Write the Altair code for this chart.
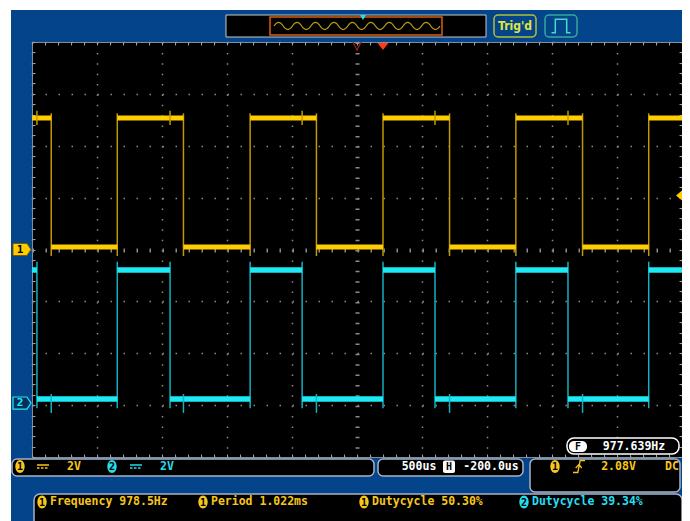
import altair as alt
import pandas as pd

T_START, T_END = -2700, 2300      # time window in us (500 us/div, position -200 us)
V_MIN, V_MAX = -8, 8              # screen volts (2 V/div, 8 divisions)
CH2_OFFSET = -5.92                # channel 2 ground position (screen volts)
center_time = -200
trigger_time = 0
trigger_level = 2.08

ch1_fall = [-2552, -1535, -512, 512, 1535]
ch1_rise = [-2044, -1022, 0, 1022, 2044]
ch1_levels = [5.07, 0.10]              # high, low (V)
ch1_edge_span = [-0.25, 5.25]
ch1_spike_t = [-2662, -1638, -622, 400, 1423]
ch1_spike_span = [4.80, 5.35]

ch2_fall = [-2662, -1638, -622, 400, 1423]
ch2_rise = [-2044, -1022, 0, 1022, 2044]
ch2_levels = [5.13, 0.16]
ch2_edge_span = [-0.20, 5.45]
ch2_spike_t = [-2552, -1535, -512, 512, 1535]
ch2_spike_span = [-0.38, 0.35]

ch_scale_labels = ["2V", "2V"]
timebase_labels = ["500us", "-200.0us"]
trigger_labels = ["2.08V", "DC"]
counter_reading = "977.639Hz"
meas_channel = ["1", "1", "1", "2"]
meas_text = ["Frequency 978.5Hz", "Period 1.022ms", "Dutycycle 50.30%", "Dutycycle 39.34%"]

# ---------------- styles ----------------
BLUE = "#03448A"
YEL = "#FFCC00"
YEL_EDGE = "#C09800"
CYAN = "#1EEAF6"
CYAN_EDGE = "#14B0C0"
TXT_YEL = "#F6C61E"
TXT_CYAN = "#26DDF0"
GRAYB = "#A8B2C2"
GRID = "#8a8a8a"
MONO = "DejaVu Sans Mono"
COND = "Liberation Sans Narrow, DejaVu Sans Condensed, Roboto, sans-serif"

X_SCALE = alt.Scale(domain=[T_START, T_END], nice=False, zero=False)
Y_SCALE = alt.Scale(domain=[V_MIN, V_MAX], nice=False, zero=False)


def segments(fall, rise, levels, offset):
    events = sorted([(t, "f") for t in fall] + [(t, "r") for t in rise])
    rows, t0, lev = [], T_START, levels[0]
    for t, kind in events:
        rows.append({"t0": t0, "t1": t, "v": lev + offset})
        lev = levels[1] if kind == "f" else levels[0]
        t0 = t
    rows.append({"t0": t0, "t1": T_END, "v": lev + offset})
    return pd.DataFrame(rows)


def spans(times, span, offset):
    return pd.DataFrame({"t": times, "lo": [span[0] + offset] * len(times),
                         "hi": [span[1] + offset] * len(times)})


ch1_seg = segments(ch1_fall, ch1_rise, ch1_levels, 0)
ch2_seg = segments(ch2_fall, ch2_rise, ch2_levels, CH2_OFFSET)
ch1_edges = spans(sorted(ch1_fall + ch1_rise), ch1_edge_span, 0)
ch2_edges = spans(sorted(ch2_fall + ch2_rise), ch2_edge_span, CH2_OFFSET)
ch1_spikes = spans(ch1_spike_t, ch1_spike_span, 0)
ch2_spikes = spans(ch2_spike_t, ch2_spike_span, CH2_OFFSET)

# graticule ticks: every 1/5 division
x_ticks = [T_START + 100 * i for i in range(51)]
y_ticks = [round(V_MIN + 0.4 * i, 1) for i in range(41)]
x_div = "abs((datum.value + 200) % 500) < 1"
x_mid = "abs(datum.value + 200) < 1"
y_div = "abs(datum.value / 2 - round(datum.value / 2)) < 0.01"
y_mid = "abs(datum.value) < 0.01"

axis_bottom = alt.Axis(values=x_ticks, orient="bottom", offset=-3, tickSize=3,
                       tickColor="#9aa2ae", tickWidth=1, labels=False, domain=False,
                       title=None, grid=True, gridColor=GRID, gridDash=[1.5, 8.875],
                       gridWidth={"condition": {"test": x_mid, "value": 4}, "value": 1.5},
                       gridOpacity={"condition": {"test": x_div, "value": 1}, "value": 0},
                       zindex=0)
axis_left = alt.Axis(values=y_ticks, orient="left", offset=-3, tickSize=3,
                     tickColor="#9aa2ae", tickWidth=1, labels=False, domain=False,
                     title=None, grid=True, gridColor=GRID, gridDash=[1.5, 11.5],
                     gridWidth={"condition": {"test": y_mid, "value": 4}, "value": 1.5},
                     gridOpacity={"condition": {"test": y_div, "value": 1}, "value": 0},
                     zindex=0)
axis_top = alt.Axis(values=x_ticks, orient="top", offset=-3, tickSize=3,
                    tickColor="#9aa2ae", tickWidth=1, labels=False, domain=False,
                    title=None, grid=False, zindex=0)
axis_right = alt.Axis(values=y_ticks, orient="right", offset=-3, tickSize=3,
                      tickColor="#9aa2ae", tickWidth=1, labels=False, domain=False,
                      title=None, grid=False, zindex=0)

ONE = pd.DataFrame({"k": [0]})


def hband(df, color, width, ax=None, ay=None):
    return alt.Chart(df).mark_rule(color=color, strokeWidth=width).encode(
        x=alt.X("t0:Q", scale=X_SCALE, axis=ax), x2="t1:Q",
        y=alt.Y("v:Q", scale=Y_SCALE, axis=ay))


def vrules(df, color, width):
    return alt.Chart(df).mark_rule(color=color, strokeWidth=width).encode(
        x=alt.X("t:Q", scale=X_SCALE, axis=None),
        y=alt.Y("lo:Q", scale=Y_SCALE, axis=None), y2="hi:Q")


def box(x1, y1, x2, y2, fill=None, stroke=None, sw=1.5, r=0):
    kw = dict(cornerRadius=r)
    if fill:
        kw["fill"] = fill
    else:
        kw["fillOpacity"] = 0
    if stroke:
        kw["stroke"] = stroke
        kw["strokeWidth"] = sw
    return alt.Chart(ONE).mark_rect(**kw).encode(
        x=alt.value(x1), x2=alt.value(x2), y=alt.value(y1), y2=alt.value(y2))


def label(x, y, s, color, size=11.5, align="center", font=MONO, weight="bold"):
    return alt.Chart(ONE).mark_text(text=s, align=align, baseline="middle", font=font,
                                    fontSize=size, fontWeight=weight, color=color).encode(
        x=alt.value(x), y=alt.value(y))


def sym(x, y, shape, size, fill=None, stroke=None, sw=1.0):
    kw = dict(shape=shape, size=size, opacity=1)
    if fill:
        kw.update(filled=True, fill=fill)
        if stroke:
            kw.update(stroke=stroke, strokeWidth=sw)
    else:
        kw.update(filled=False, stroke=stroke, strokeWidth=sw)
    return alt.Chart(ONE).mark_point(**kw).encode(x=alt.value(x), y=alt.value(y))


ELLIPSE = "M0,-1 A0.72,1 0 1,1 0,1 A0.72,1 0 1,1 0,-1 Z"


def badge(x, y, n, color):
    return [sym(x, y, ELLIPSE, 169, fill=color),
            label(x, y + 0.5, n, "black", size=10)]


def dc_symbol(x, y, color):
    solid = alt.Chart(ONE).mark_rule(color=color, strokeWidth=1.5).encode(
        x=alt.value(x - 6), x2=alt.value(x + 6), y=alt.value(y - 1.5))
    dashed = alt.Chart(ONE).mark_rule(color=color, strokeWidth=1.5, strokeDash=[2.5, 1.5]).encode(
        x=alt.value(x - 6), x2=alt.value(x + 6), y=alt.value(y + 1.5))
    return [solid, dashed]


layers = []
# waveforms (these two layers carry the graticule axes)
layers.append(vrules(ch1_edges, YEL_EDGE, 1.5))
layers.append(vrules(ch2_edges, CYAN_EDGE, 1.5))
layers.append(hband(ch1_seg, YEL, 5, axis_bottom, axis_left))
layers.append(hband(ch2_seg, CYAN, 5.5, axis_top, axis_right))
layers.append(vrules(ch1_spikes, YEL_EDGE, 1.5))
layers.append(vrules(ch2_spikes, CYAN_EDGE, 1.5))

# top position markers (through the time scale)
layers.append(alt.Chart(pd.DataFrame({"t": [center_time]})).mark_point(
    shape="M-1,-1 L0,1 L1,-1", size=70, filled=False, stroke="#A02810", strokeWidth=1.2,
    opacity=1).encode(x=alt.X("t:Q", scale=X_SCALE, axis=None), y=alt.value(4)))
layers.append(alt.Chart(pd.DataFrame({"t": [trigger_time]})).mark_point(
    shape="M-1,-0.64 L1,-0.64 L0,0.64 Z", size=121, filled=True, fill="#FF3A10",
    opacity=1).encode(x=alt.X("t:Q", scale=X_SCALE, axis=None), y=alt.value(4.5)))

# channel ground markers and trigger level marker (through the volt scale)
PENT = "M-1,-0.67 L0.55,-0.67 L1,0 L0.55,0.67 L-1,0.67 Z"
layers.append(alt.Chart(pd.DataFrame({"v": [0.0]})).mark_point(
    shape=PENT, size=324, filled=True, fill=YEL, stroke="#7A5A00", strokeWidth=1,
    opacity=1).encode(x=alt.value(-10), y=alt.Y("v:Q", scale=Y_SCALE, axis=None)))
layers.append(alt.Chart(pd.DataFrame({"v": [0.0]})).mark_text(
    text="1", font=MONO, fontSize=11, fontWeight="bold", color="black").encode(
    x=alt.value(-12), y=alt.Y("v:Q", scale=Y_SCALE, axis=None)))
layers.append(alt.Chart(pd.DataFrame({"v": [CH2_OFFSET]})).mark_point(
    shape=PENT, size=324, filled=True, fill="#082E5C", stroke=CYAN, strokeWidth=1.2,
    opacity=1).encode(x=alt.value(-10), y=alt.Y("v:Q", scale=Y_SCALE, axis=None)))
layers.append(alt.Chart(pd.DataFrame({"v": [CH2_OFFSET]})).mark_text(
    text="2", font=MONO, fontSize=11, fontWeight="bold", color=CYAN).encode(
    x=alt.value(-12), y=alt.Y("v:Q", scale=Y_SCALE, axis=None)))
layers.append(alt.Chart(pd.DataFrame({"v": [trigger_level]})).mark_point(
    shape="M0.6,-1 L-0.6,0 L0.6,1 Z", size=100, filled=True, fill=YEL,
    opacity=1).encode(x=alt.value(647), y=alt.Y("v:Q", scale=Y_SCALE, axis=None)))

# white page edge (screenshot border)
layers.append(box(-24, -34, 660, -32, fill="white"))
layers.append(box(-24, -34, -21, 480, fill="white"))

# top status bar
layers.append(box(194, -27, 454, -5, fill="black", stroke="#C8C8C8", sw=1))
layers.append(box(238, -25, 410, -7, stroke="#D86010", sw=1.5))
wave = "M-1,0" + "".join(
    " q0.05556,%s 0.11111,0" % ("-0.085" if i % 2 == 0 else "0.085") for i in range(18))
layers.append(sym(325, -16, wave, 166 * 166, stroke="#B89A10", sw=1.2))
layers.append(sym(331, -24.5, "triangle-down", 36, fill="#20E0F0"))
layers.append(box(462, -27, 504, -5, stroke="#B4BE3A", sw=1.5, r=4))
layers.append(label(483, -16, "Trig'd", "#E2E640", size=12, font=COND))
layers.append(box(513, -27, 545, -5, stroke="#38A898", sw=1.5, r=4))
layers.append(sym(529, -16, "M-1,0.7 L-0.6,0.7 L-0.6,-0.7 L0.6,-0.7 L0.6,0.7 L1,0.7",
                  361, stroke="#40E0C0", sw=1.5))

# frequency counter box
layers.append(box(535, 396, 647, 412, fill="black", stroke="white", sw=1.5, r=7))
layers.append(box(537, 399, 555, 410, fill="white", r=5))
layers.append(label(546, 404.5, "F", "black", size=10))
layers.append(label(602, 404.5, counter_reading, "white"))

# channel / timebase / trigger bar
layers.append(box(-20, 417, 342, 434, fill="black", stroke=GRAYB, sw=1.5, r=5))
layers += badge(-12, 424.5, "1", TXT_YEL)
layers += dc_symbol(11, 424.5, TXT_YEL)
layers.append(label(42, 424.5, ch_scale_labels[0], TXT_YEL))
layers += badge(80, 424.5, "2", TXT_CYAN)
layers += dc_symbol(104, 424.5, TXT_CYAN)
layers.append(label(135, 424.5, ch_scale_labels[1], TXT_CYAN))

layers.append(box(346, 417, 491, 434, fill="black", stroke=GRAYB, sw=1.5, r=5))
layers.append(label(387, 424.5, timebase_labels[0], "white"))
layers.append(box(411, 418.5, 423, 431, fill="white", r=2))
layers.append(label(417, 425, "H", "black", size=10))
layers.append(label(459, 424.5, timebase_labels[1], "white"))

layers.append(box(498, 417, 648, 450, fill="black", stroke=GRAYB, sw=1.5, r=5))
layers += badge(523, 424.5, "1", TXT_YEL)
layers.append(sym(547, 424.5, "M-1,1 L-0.2,1 L0.2,-1 L1,-1 M-0.55,0.25 L0,-0.35 L0.45,0.25",
                  144, stroke=TXT_YEL, sw=1.3))
layers.append(label(586.5, 424.5, trigger_labels[0], TXT_YEL))
layers.append(label(640, 424.5, trigger_labels[1], TXT_YEL))

# measurement bar
layers.append(box(2, 452, 650, 495, fill="black", stroke=GRAYB, sw=1.5, r=6))
meas_badge_x = [10, 171, 332, 492]
for bx, ch, txt in zip(meas_badge_x, meas_channel, meas_text):
    col = TXT_YEL if ch == "1" else TXT_CYAN
    layers += badge(bx, 460, ch, col)
    layers.append(label(bx + 8, 460, txt, col, align="left"))

chart = alt.layer(*layers).resolve_axis(x="independent", y="independent").properties(
    width=650, height=415,
    padding={"left": 24, "top": 34, "right": 0, "bottom": 64},
    autosize=alt.AutoSizeParams(type="none"),
    background=BLUE,
).configure_view(fill="black", stroke="#7F8FA2", strokeWidth=1)

chart.save("out.html", embed_options={"renderer": "svg", "actions": False})
